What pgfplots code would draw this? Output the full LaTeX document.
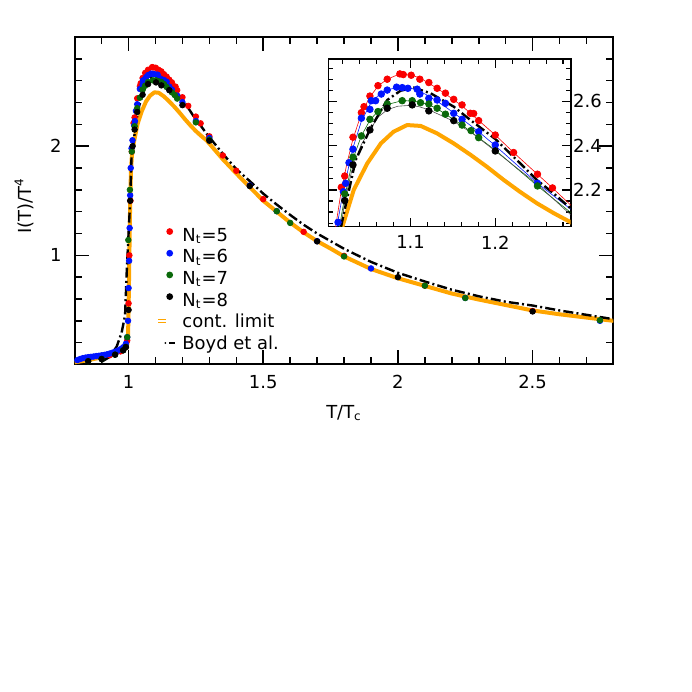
\documentclass[border=0pt]{standalone}
\usepackage{fontspec}
\setmainfont{DejaVu Sans}
\usepackage{pgfplots}
\usepackage{pgfplotstable}
\pgfplotsset{compat=1.18}
\definecolor{cred}{RGB}{250,0,0}
\definecolor{cblue}{RGB}{0,20,255}
\definecolor{cgreen}{RGB}{10,105,10}
\definecolor{corange}{RGB}{255,165,0}

\pgfplotstableread{
T y
0.90 0.070
0.93 0.085
0.95 0.100
0.97 0.120
0.98 0.135
0.99 0.160
0.995 0.220
1.000 0.560
1.003 1.000
1.007 1.500
1.012 1.950
1.0184 2.212
1.0224 2.263
1.0321 2.438
1.0420 2.549
1.0451 2.576
1.0521 2.624
1.0616 2.671
1.0725 2.700
1.0874 2.724
1.0914 2.721
1.1008 2.718
1.1110 2.700
1.1216 2.685
1.1314 2.659
1.1412 2.637
1.1510 2.609
1.1608 2.584
1.1706 2.546
1.1745 2.545
1.1804 2.513
1.2000 2.448
1.2216 2.369
1.2498 2.271
1.2675 2.209
1.3000 2.090
1.3500 1.915
1.4000 1.775
1.5000 1.515
1.6500 1.215
1.8000 0.995
2.1000 0.722
2.5000 0.490
}\redpts

\pgfplotstableread{
T y
0.81 0.040
0.82 0.050
0.83 0.058
0.84 0.063
0.85 0.067
0.86 0.070
0.87 0.073
0.88 0.077
0.89 0.080
0.90 0.084
0.91 0.088
0.92 0.093
0.93 0.100
0.94 0.108
0.95 0.117
0.96 0.127
0.97 0.140
0.98 0.158
0.99 0.190
0.995 0.250
0.998 0.400
1.000 0.700
1.002 0.950
1.004 1.250
1.006 1.550
1.008 1.800
1.011 1.980
1.0145 2.054
1.0208 2.192
1.0235 2.230
1.0274 2.323
1.0321 2.384
1.0420 2.524
1.0521 2.564
1.0537 2.603
1.0588 2.603
1.0655 2.633
1.0725 2.651
1.0835 2.664
1.0902 2.662
1.0969 2.659
1.1078 2.655
1.1110 2.633
1.1216 2.614
1.1314 2.606
1.1412 2.591
1.1510 2.546
1.1608 2.519
1.1804 2.463
1.2000 2.403
1.2498 2.230
1.3000 2.075
1.4500 1.640
1.5500 1.405
1.7000 1.130
1.9000 0.880
2.2500 0.610
2.7500 0.400
}\bluepts

\pgfplotstableread{
T y
0.85 0.030
0.90 0.050
0.95 0.090
0.98 0.130
0.99 0.160
0.995 0.250
0.999 1.140
1.005 1.600
1.012 1.950
1.0224 2.182
1.0321 2.348
1.0420 2.444
1.0521 2.519
1.0616 2.554
1.0725 2.588
1.0902 2.603
1.1020 2.603
1.1118 2.594
1.1216 2.588
1.1314 2.569
1.1412 2.542
1.1608 2.493
1.1714 2.468
1.1804 2.436
1.2498 2.218
1.3000 2.060
1.5500 1.404
1.6000 1.297
1.8000 0.990
2.1000 0.722
2.2500 0.609
2.7500 0.405
}\greenpts

\pgfplotstableread{
T y
0.85 0.030
0.90 0.050
0.95 0.090
0.98 0.130
0.99 0.160
1.000 0.500
1.006 1.500
1.015 2.000
1.0224 2.152
1.0321 2.313
1.0521 2.471
1.0725 2.569
1.1020 2.584
1.1216 2.557
1.1510 2.513
1.2000 2.376
1.3000 2.050
1.4500 1.635
1.7000 1.128
2.0000 0.800
2.5000 0.486
}\blackpts

\pgfplotstableread{
T y
1.0115 2.030
1.0180 2.190
1.0250 2.320
1.0321 2.430
1.0420 2.545
1.0520 2.620
1.0620 2.670
1.0725 2.700
1.0850 2.720
1.0950 2.724
1.1050 2.714
1.1150 2.697
1.1250 2.674
1.1400 2.637
1.1600 2.582
1.1800 2.515
1.2000 2.448
1.2216 2.369
1.2500 2.270
1.2675 2.209
1.2900 2.128
}\redline

\pgfplotstableread{
T y
1.0130 2.030
1.0208 2.200
1.0274 2.310
1.0321 2.390
1.0420 2.510
1.0520 2.585
1.0620 2.627
1.0725 2.652
1.0850 2.663
1.0970 2.662
1.1080 2.652
1.1210 2.625
1.1314 2.600
1.1412 2.575
1.1510 2.548
1.1608 2.520
1.1804 2.463
1.2000 2.400
1.2498 2.230
1.2900 2.110
}\blueline

\pgfplotstableread{
T y
1.0160 2.030
1.0224 2.170
1.0321 2.340
1.0420 2.444
1.0521 2.515
1.0616 2.556
1.0725 2.586
1.0902 2.603
1.1020 2.602
1.1118 2.596
1.1216 2.585
1.1314 2.567
1.1412 2.542
1.1608 2.493
1.1804 2.436
1.2000 2.380
1.2498 2.218
1.2900 2.095
}\greenline

\pgfplotstableread{
T y
1.0180 2.030
1.0224 2.150
1.0321 2.310
1.0420 2.405
1.0521 2.471
1.0620 2.530
1.0725 2.562
1.0850 2.578
1.1000 2.582
1.1100 2.576
1.1216 2.562
1.1510 2.510
1.1750 2.450
1.2000 2.376
1.2500 2.225
1.2900 2.084
}\blackline

\pgfplotstableread{
T y
0.800 0.020
0.850 0.040
0.900 0.065
0.950 0.100
0.970 0.125
0.985 0.150
0.995 0.180
0.998 0.250
1.000 0.500
1.003 1.000
1.006 1.500
1.009 1.780
1.012 1.900
1.015 1.970
1.0196 2.034
1.033 2.200
1.049 2.320
1.065 2.410
1.080 2.463
1.096 2.493
1.112 2.489
1.131 2.456
1.151 2.410
1.171 2.358
1.190 2.305
1.210 2.245
1.229 2.192
1.249 2.140
1.269 2.095
1.290 2.052
1.350 1.880
1.400 1.750
1.450 1.625
1.500 1.500
1.550 1.400
1.600 1.300
1.650 1.210
1.700 1.130
1.750 1.062
1.800 0.990
1.900 0.875
2.000 0.790
2.100 0.720
2.200 0.650
2.300 0.595
2.400 0.545
2.500 0.495
2.600 0.460
2.700 0.430
2.800 0.400
}\contlimit

\pgfplotstableread{
T y
0.900 0.025
0.930 0.070
0.956 0.165
0.974 0.290
0.987 0.450
0.993 0.840
1.000 1.200
1.005 1.450
1.011 1.900
1.020 2.070
1.0353 2.335
1.0529 2.479
1.0725 2.606
1.0882 2.648
1.1039 2.662
1.1235 2.637
1.151 2.576
1.1706 2.516
1.200 2.430
1.2294 2.320
1.249 2.245
1.2686 2.185
1.290 2.113
1.350 1.930
1.400 1.790
1.450 1.680
1.500 1.565
1.550 1.465
1.600 1.370
1.650 1.280
1.700 1.200
1.750 1.130
1.800 1.060
1.900 0.940
2.000 0.840
2.100 0.760
2.200 0.685
2.300 0.625
2.400 0.575
2.500 0.540
2.600 0.495
2.700 0.455
2.800 0.415
}\boyd

\begin{document}
\begin{tikzpicture}[font=\fontsize{9}{10.8}\selectfont]
\path[use as bounding box] (0,0) rectangle (346bp,346bp);
\begin{axis}[
  at={(37.35bp,163.75bp)}, anchor=south west,
  scale only axis, width=269.35bp, height=163.75bp,
  xmin=0.8, xmax=2.8, ymin=0, ymax=3,
  xtick={1,1.5,2,2.5}, xticklabels={1,1.5,2,2.5},
  minor xtick={0.8,0.9,1.1,1.2,1.3,1.4,1.6,1.7,1.8,1.9,2.1,2.2,2.3,2.4,2.6,2.7,2.8},
  ytick={1,2}, yticklabels={1,2},
  minor ytick={0.2,0.4,0.6,0.8,1.2,1.4,1.6,1.8,2.2,2.4,2.6,2.8},
  tick align=inside,
  major tick length=7bp, minor tick length=3.5bp,
  every tick/.style={black, line width=0.8bp},
  axis line style={line width=1bp},
  tick label style={font=\fontsize{9}{10.8}\selectfont},
  xticklabel style={yshift=-2bp},
  yticklabel style={xshift=-3bp},
  xlabel={T/T\textsubscript{c}},
  ylabel={I(T)/T\textsuperscript{4}},
  xlabel style={at={(axis description cs:0.5,-0.148)}, anchor=center},
  ylabel style={at={(axis description cs:-0.094,0.484)}, anchor=center},
  /pgf/number format/assume math mode=true,
  legend style={at={(rel axis cs:0.1528,0.4208)}, anchor=north west,
    draw=none, fill=none, inner sep=0pt, column sep=3bp, row sep=0pt,
    nodes={inner sep=0pt, text height=7bp, text depth=3.85bp, font=\fontsize{9}{10.8}\selectfont}},
  legend cell align=left,
]
\addplot[only marks, mark=*, mark size=1.4bp, cred, forget plot] table[x=T,y=y] {\redpts};
\addplot[only marks, mark=*, mark size=1.4bp, cblue, forget plot] table[x=T,y=y] {\bluepts};
\addplot[only marks, mark=*, mark size=1.4bp, cgreen, forget plot] table[x=T,y=y] {\greenpts};
\addplot[only marks, mark=*, mark size=1.4bp, black, forget plot] table[x=T,y=y] {\blackpts};
\addplot[corange, line width=2bp, line join=round, forget plot] table[x=T,y=y] {\contlimit};
\addplot[black, line width=1.2bp, dash pattern=on 5bp off 1.6bp on 1bp off 1.6bp, forget plot] table[x=T,y=y] {\boyd};

\addlegendimage{legend image code/.code={\path[draw=none,fill=none] (0,-1.5bp) rectangle (9.5bp,1.5bp); \fill[cred,draw=none] (6.15bp,3.2bp) circle (1.7bp);}}
\addlegendentry{N\textsubscript{t}=5}
\addlegendimage{legend image code/.code={\path[draw=none,fill=none] (0,-1.5bp) rectangle (9.5bp,1.5bp); \fill[cblue,draw=none] (6.15bp,3.2bp) circle (1.7bp);}}
\addlegendentry{N\textsubscript{t}=6}
\addlegendimage{legend image code/.code={\path[draw=none,fill=none] (0,-1.5bp) rectangle (9.5bp,1.5bp); \fill[cgreen,draw=none] (6.15bp,3.2bp) circle (1.7bp);}}
\addlegendentry{N\textsubscript{t}=7}
\addlegendimage{legend image code/.code={\path[draw=none,fill=none] (0,-1.5bp) rectangle (9.5bp,1.5bp); \fill[black,draw=none] (6.15bp,3.2bp) circle (1.7bp);}}
\addlegendentry{N\textsubscript{t}=8}
\addlegendimage{legend image code/.code={\path[draw=none,fill=none] (0,-1.5bp) rectangle (9.5bp,1.5bp); \fill[corange,draw=none] (0.15bp,0.9bp) rectangle (4.5bp,3.1bp); \draw[white, line width=0.25bp] (0.15bp,1.6bp)--(4.5bp,1.6bp) (0.15bp,2.35bp)--(4.5bp,2.35bp);}}
\addlegendentry{cont. limit}
\addlegendimage{legend image code/.code={\path[draw=none,fill=none] (0,-1.5bp) rectangle (9.5bp,1.5bp); \fill[black,draw=none] (4bp,1.7bp) circle (0.5bp); \draw[black, line width=0.7bp] (5.7bp,1.7bp)--(9bp,1.7bp);}}
\addlegendentry{Boyd et al.}
\end{axis}

\begin{axis}[
  at={(164.15bp,232.65bp)}, anchor=south west,
  scale only axis, width=121.2bp, height=83.7bp,
  xmin=1.003, xmax=1.289, ymin=2.034, ymax=2.79,
  xtick={1.1,1.2}, xticklabels={1.1,1.2},
  minor xtick={1.02,1.04,1.06,1.08,1.12,1.14,1.16,1.18,1.22,1.24,1.26,1.28},
  ytick={2.2,2.4,2.6}, yticklabels={2.2,2.4,2.6},
  minor ytick={2.05,2.1,2.15,2.25,2.3,2.35,2.45,2.5,2.55,2.65,2.7,2.75},
  yticklabel pos=right,
  tick align=inside,
  major tick length=4.5bp, minor tick length=2.3bp,
  every tick/.style={black, line width=0.6bp},
  axis line style={line width=0.8bp},
  tick label style={font=\fontsize{9}{10.8}\selectfont},
  xticklabel style={yshift=-1bp},
  yticklabel style={xshift=-2.3bp},
  /pgf/number format/assume math mode=true,
]
\addplot[cred, line width=0.3bp] table[x=T,y=y] {\redline};
\addplot[cblue, line width=0.3bp] table[x=T,y=y] {\blueline};
\addplot[cgreen, line width=0.3bp] table[x=T,y=y] {\greenline};
\addplot[black!70, line width=0.3bp] table[x=T,y=y] {\blackline};
\addplot[only marks, mark=*, mark size=1.65bp, cred] table[x=T,y=y] {\redpts};
\addplot[only marks, mark=*, mark size=1.65bp, cblue] table[x=T,y=y] {\bluepts};
\addplot[only marks, mark=*, mark size=1.65bp, cgreen] table[x=T,y=y] {\greenpts};
\addplot[only marks, mark=*, mark size=1.65bp, black] table[x=T,y=y] {\blackpts};
\addplot[corange, line width=2bp, line join=round] table[x=T,y=y] {\contlimit};
\addplot[black, line width=1.2bp, dash pattern=on 5bp off 1.6bp on 1bp off 1.6bp] table[x=T,y=y] {\boyd};
\end{axis}
\end{tikzpicture}
\end{document}
